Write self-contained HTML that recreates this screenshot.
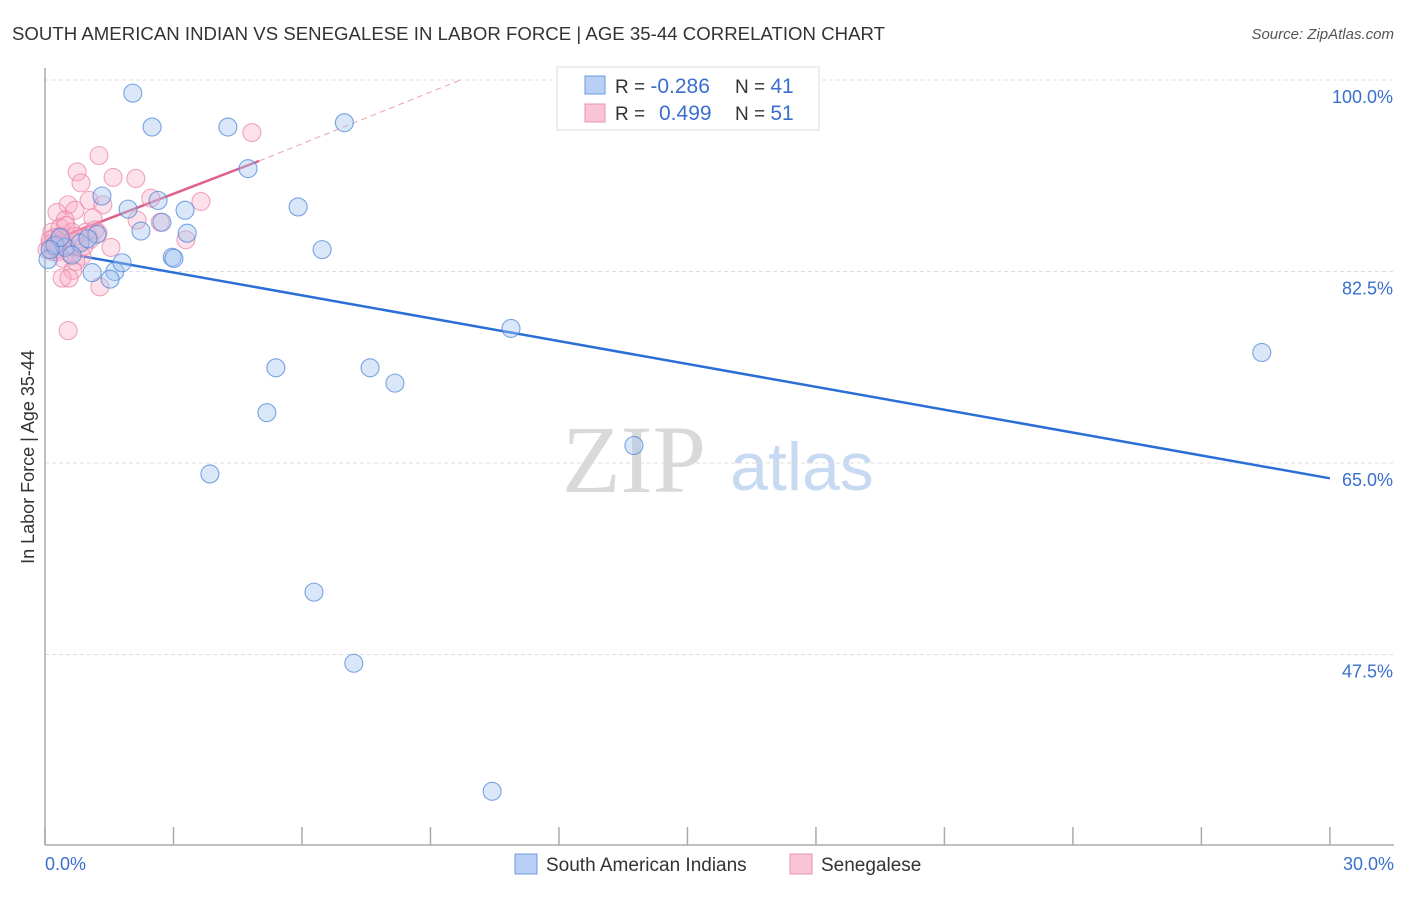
<!DOCTYPE html>
<html><head><meta charset="utf-8"><style>
body{margin:0;background:#fff;font-family:"Liberation Sans",sans-serif;}
</style></head><body>
<svg id="chart" width="1406" height="892" viewBox="0 0 1406 892" xmlns="http://www.w3.org/2000/svg" font-family="Liberation Sans, sans-serif">
<text x="12" y="40" font-size="18.6" fill="#333" textLength="873">SOUTH AMERICAN INDIAN VS SENEGALESE IN LABOR FORCE | AGE 35-44 CORRELATION CHART</text>
<text x="1394" y="39" font-size="15" fill="#555" font-style="italic" text-anchor="end">Source: ZipAtlas.com</text>
<text transform="translate(34,457) rotate(-90)" font-size="18" fill="#333" text-anchor="middle">In Labor Force | Age 35-44</text>
<g>
<text x="634" y="492" font-size="96" fill="#d9d9d9" font-family="Liberation Serif, serif" text-anchor="middle">ZIP</text>
<text x="802" y="490" font-size="68" fill="#c8daf2" text-anchor="middle">atlas</text>
</g>
<g id="grid"></g>
<g id="axes"></g>
<g id="trend"></g>
<g id="points"></g>
<g>
<rect x="557" y="67" width="262" height="63" fill="#fff" stroke="#ddd"/>
<rect x="585" y="76" width="20" height="18" fill="#b7d0f4" stroke="#6c9be0"/>
<rect x="585" y="104" width="20" height="18" fill="#f9c5d5" stroke="#ea93ae"/>
<text x="615" y="93" font-size="19" fill="#333">R = <tspan fill="#3a6fd0" font-size="21">-0.286</tspan></text>
<text x="735" y="93" font-size="19" fill="#333">N = <tspan fill="#3a6fd0" font-size="21">41</tspan></text>
<text x="615" y="120" font-size="19" fill="#333">R = <tspan fill="#3a6fd0" x="659" font-size="21">0.499</tspan></text>
<text x="735" y="120" font-size="19" fill="#333">N = <tspan fill="#3a6fd0" font-size="21">51</tspan></text>
</g>
<g>
<rect x="515" y="854" width="22" height="20" fill="#b7d0f4" stroke="#6c9be0"/>
<text x="546" y="871" font-size="19" fill="#333">South American Indians</text>
<rect x="790" y="854" width="22" height="20" fill="#f9c5d5" stroke="#ea93ae"/>
<text x="821" y="871" font-size="19" fill="#333">Senegalese</text>
</g>
</svg>
<script>
const blueX=[2.05,2.50,4.27,6.99,17.30,4.74,1.33,1.94,2.64,3.27,5.91,2.24,2.73,3.32,1.21,6.47,2.97,3.01,1.10,1.63,1.80,1.52,10.88,28.41,5.39,7.59,8.17,5.18,13.75,3.85,6.28,7.21,10.44,0.07,0.23,0.47,0.82,1.00,0.35,0.63,0.12];
const blueY=[98.8,95.7,95.7,96.1,99.8,91.9,89.4,88.2,89.0,88.1,88.4,86.2,87.0,86.0,85.9,84.5,83.8,83.7,82.4,82.5,83.3,81.8,77.3,75.1,73.7,73.7,72.3,69.6,66.6,64.0,53.2,46.7,35.0,83.6,84.9,84.7,85.1,85.5,85.6,84.0,84.5];
const pinkX=[4.83,1.26,0.75,1.59,2.12,0.84,2.47,3.64,1.03,1.35,0.54,0.28,0.70,1.12,0.47,2.15,2.69,0.35,0.16,0.63,0.96,1.24,3.29,0.23,0.40,0.77,0.12,0.30,0.49,1.54,0.05,0.19,0.58,0.86,0.30,0.42,0.72,0.65,0.40,0.56,1.28,0.54,1.05,1.17,0.12,0.26,0.37,0.91,0.49,0.21,0.70];
const pinkY=[95.2,93.1,91.6,91.1,91.0,90.6,89.2,88.9,89.0,88.6,88.6,87.9,88.1,87.4,87.2,87.2,87.0,86.5,86.1,86.1,86.1,86.0,85.4,85.6,85.4,85.2,85.0,84.6,84.8,84.7,84.5,84.3,84.1,83.9,84.3,83.7,83.4,82.6,81.9,81.9,81.1,77.1,85.4,86.3,85.4,85.0,85.7,84.8,86.7,84.8,85.7];
const yTicks=[100,82.5,65,47.5];
const yTickLabels=["100.0%","82.5%","65.0%","47.5%"];
const xTicks=[0,3,6,9,12,15,18,21,24,27,30];
const xTickLabels=["0.0%","30.0%"];
const blueTrend=[[0,84.5],[30,63.6]];
const pinkTrend=[[0,85.1],[5.0,92.6]];
const pinkTrendDash=[[5.0,92.6],[9.7,100]];

const NS="http://www.w3.org/2000/svg";
const sx=v=>45+v*42.83;
const sy=v=>80+(100-v)*10.943;
function mk(tag,attrs,parent){const e=document.createElementNS(NS,tag);for(const k in attrs)e.setAttribute(k,attrs[k]);parent.appendChild(e);return e;}
const grid=document.getElementById('grid'),axes=document.getElementById('axes'),trend=document.getElementById('trend'),pts=document.getElementById('points');
yTicks.forEach((t,i)=>{
 const l=mk('line',{x1:45,x2:1394,y1:sy(t),y2:sy(t),stroke:'#ddd','stroke-dasharray':'4,3'},grid);
 
 
 const tx=mk('text',{x:1393,y:sy(t)+23,'font-size':18,fill:'#3a6fd0','text-anchor':'end'},axes);
 tx.textContent=yTickLabels[i];
 
 
});
const ya=mk('line',{x1:45,x2:45,y1:68,y2:845,stroke:'#aaa','stroke-width':1.5},axes);


const xa=mk('line',{x1:45,x2:1394,y1:845,y2:845,stroke:'#aaa','stroke-width':1.5},axes);


xTicks.forEach(t=>{
 const l=mk('line',{x1:sx(t),x2:sx(t),y1:827,y2:845,stroke:'#aaa','stroke-width':1.5},axes);
 
 
});
[[0,'start',45],[30,'end',1394]].forEach((a,i)=>{
 const tx=mk('text',{x:a[2],y:870,'font-size':18,fill:'#3a6fd0','text-anchor':a[1]},axes);
 tx.textContent=xTickLabels[i];
 
 
});
function drawPts(X,Y,fill,stroke,name){
 X.forEach((x,i)=>{
  const c=mk('circle',{cx:sx(x),cy:sy(Y[i]),r:9,fill:fill,stroke:stroke,'stroke-width':1.1},pts);
  
  
 });
}
drawPts(pinkX,pinkY,'rgba(248,170,195,0.35)','rgba(232,130,165,0.7)','senegalese-point');
drawPts(blueX,blueY,'rgba(160,196,240,0.4)','rgba(80,135,215,0.75)','south-american-indian-point');
const bt=mk('line',{x1:sx(blueTrend[0][0]),y1:sy(blueTrend[0][1]),x2:sx(blueTrend[1][0]),y2:sy(blueTrend[1][1]),stroke:'#2a6fd6','stroke-width':2.5},trend);


const pt=mk('line',{x1:sx(pinkTrend[0][0]),y1:sy(pinkTrend[0][1]),x2:sx(pinkTrend[1][0]),y2:sy(pinkTrend[1][1]),stroke:'#e0608a','stroke-width':2.5},trend);


const pd=mk('line',{x1:sx(pinkTrendDash[0][0]),y1:sy(pinkTrendDash[0][1]),x2:sx(pinkTrendDash[1][0]),y2:sy(pinkTrendDash[1][1]),stroke:'#eaa0b8','stroke-width':1,'stroke-dasharray':'6,4'},trend);


</script>
</body></html>
